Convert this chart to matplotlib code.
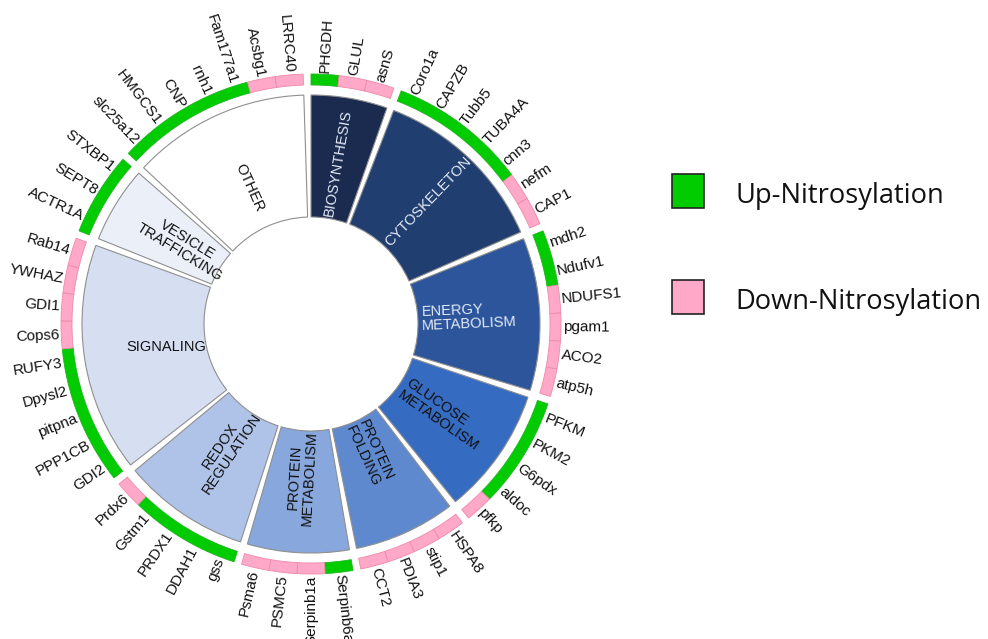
import numpy as np
import matplotlib
matplotlib.use("Agg")
import matplotlib.pyplot as plt
from matplotlib.patches import Rectangle

# Functional categories (clockwise from 12 o'clock) and how many proteins each holds
categories = ["BIOSYNTHESIS", "CYTOSKELETON", "ENERGY\nMETABOLISM", "GLUCOSE\nMETABOLISM",
              "PROTEIN\nFOLDING", "PROTEIN\nMETABOLISM", "REDOX\nREGULATION", "SIGNALING",
              "VESICLE\nTRAFFICKING", "OTHER"]
group_sizes = [3, 7, 6, 5, 4, 4, 5, 9, 3, 7]

# Proteins in clockwise order
proteins = ["PHGDH", "GLUL", "asnS",
            "Coro1a", "CAPZB", "Tubb5", "TUBA4A", "cnn3", "nefm", "CAP1",
            "mdh2", "Ndufv1", "NDUFS1", "pgam1", "ACO2", "atp5h",
            "PFKM", "PKM2", "G6pdx", "aldoc", "pfkp",
            "HSPA8", "stip1", "PDIA3", "CCT2",
            "Serpinb6a", "Serpinb1a", "PSMC5", "Psma6",
            "gss", "DDAH1", "PRDX1", "Gstm1", "Prdx6",
            "GDI2", "PPP1CB", "pitpna", "Dpysl2", "RUFY3", "Cops6", "GDI1", "YWHAZ", "Rab14",
            "ACTR1A", "SEPT8", "STXBP1",
            "slc25a12", "HMGCS1", "CNP", "rnh1", "Fam177a1", "Acsbg1", "LRRC40"]

# +1 = up-nitrosylated, -1 = down-nitrosylated
regulation = [1, -1, -1,
              1, 1, 1, 1, 1, -1, -1,
              1, 1, -1, -1, -1, -1,
              1, 1, 1, 1, -1,
              -1, -1, -1, -1,
              1, -1, -1, -1,
              1, 1, 1, 1, -1,
              1, 1, 1, 1, 1, -1, -1, -1, -1,
              1, 1, 1,
              1, 1, 1, 1, 1, -1, -1]

legend_labels = ["Up-Nitrosylation", "Down-Nitrosylation"]

# ---- styling ----
sector_colors = ["#1b2b50", "#203f70", "#2c559b", "#366bc2", "#5e89cf",
                 "#88a7dc", "#afc3e8", "#d6dff2", "#eaeff8", "#ffffff"]
sector_text = ["#e4eaf6", "#e4eaf6", "#e4eaf6", "#111111", "#111111",
               "#111111", "#111111", "#111111", "#111111", "#111111"]
sector_label_r = [163, 170, 158, 160, 142, 154, 152, 147, 150, 150]
sector_label_align = ["center", "center", "left", "left", "center",
                      "center", "center", "center", "center", "center"]
sector_label_rot = [None, None, None, None, None, None, None, 0, None, None]

up_color, up_edge = "#00cc00", "#1fb51f"
down_color, down_edge = "#ffa8c8", "#ee8aaa"

W, H = 988, 639
cx, cy = 311, 324          # centre of the ring in pixels (from top-left)
rmax = 270
r_hole, r_sector = 107, 229
r_ring_in, r_ring_out = 239, 250
r_label = 252

gap_deg = 1.8
cell_deg = (360 - gap_deg * len(group_sizes)) / len(proteins)

fig = plt.figure(figsize=(W / 100, H / 100), dpi=100)
ax = fig.add_axes([(cx - rmax) / W, (H - cy - rmax) / H, 2 * rmax / W, 2 * rmax / H],
                  projection="polar")
ax.set_theta_zero_location("N")
ax.set_theta_direction(-1)
ax.set_ylim(0, rmax)
ax.set_axis_off()


def math_angle(theta_cw_deg):
    a = 90 - theta_cw_deg
    return (a + 180) % 360 - 180


def radial_rotation(a):
    if -90 < a <= 90:
        return a, "left"
    return a - 180 if a > 0 else a + 180, "right"


pos = 0.0
k = 0
for gi, n in enumerate(group_sizes):
    start = pos
    span = n * cell_deg
    mid = start + span / 2
    # category sector
    ax.bar(np.radians(mid), r_sector - r_hole, width=np.radians(span), bottom=r_hole,
           color=sector_colors[gi], edgecolor="#8f8f8f", linewidth=0.8, align="center")
    rot, _ = radial_rotation(math_angle(mid))
    if sector_label_rot[gi] is not None:
        rot = sector_label_rot[gi]
    ax.text(np.radians(mid), sector_label_r[gi], categories[gi], rotation=rot,
            rotation_mode="anchor", ha="center", va="center",
            multialignment=sector_label_align[gi], fontsize=10.5,
            family="Liberation Sans", color=sector_text[gi], linespacing=1.05)
    # protein cells
    for j in range(n):
        c = start + (j + 0.5) * cell_deg
        up = regulation[k] > 0
        ax.bar(np.radians(c), r_ring_out - r_ring_in, width=np.radians(cell_deg),
               bottom=r_ring_in, color=up_color if up else down_color,
               edgecolor=up_edge if up else down_edge, linewidth=0.6, align="center")
        rot, ha = radial_rotation(math_angle(c))
        ax.text(np.radians(c), r_label, proteins[k], rotation=rot, rotation_mode="anchor",
                ha=ha, va="center", fontsize=11, family="Liberation Sans", color="#111111")
        k += 1
    pos = start + span + gap_deg

# ---- legend ----
legend_baseline = [203, 309]
for lab, col, y in zip(legend_labels, [up_color, down_color], legend_baseline):
    fig.patches.append(Rectangle((672 / W, (H - y + 29 - 34) / H), 32 / W, 34 / H,
                                 transform=fig.transFigure, facecolor=col,
                                 edgecolor="#222222", linewidth=1.2))
    fig.text(735 / W, (H - y) / H, lab, fontsize=19.6, family="Open Sans",
             ha="left", va="baseline", color="#111111")

fig.savefig("out.png", dpi=100, facecolor="white")
